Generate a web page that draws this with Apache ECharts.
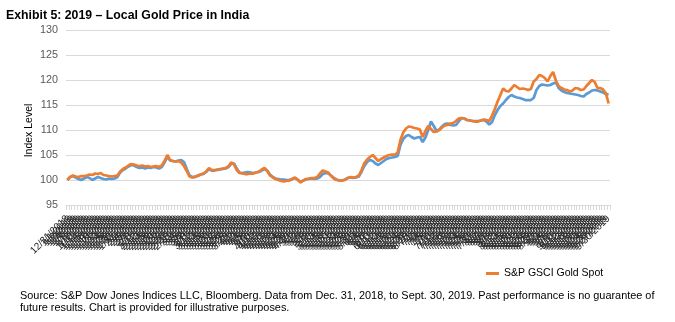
<!DOCTYPE html>
<html>
<head>
<meta charset="utf-8">
<script src="https://cdn.jsdelivr.net/npm/echarts@6/dist/echarts.min.js"></script>
<style>
  html, body { margin: 0; padding: 0; background: #ffffff; }
  #chart { width: 675px; height: 322px; }
</style>
</head>
<body>
<div id="chart"></div>
<script>
// Trading-day category labels (weekdays, M/D/YYYY), Dec 31 2018 – Sep 30 2019
const startDate = [2018, 11, 31];
const endDate = [2019, 8, 30];
function tradingDays(s, e) {
  const out = [];
  const d = new Date(s[0], s[1], s[2]);
  const last = new Date(e[0], e[1], e[2]);
  while (d <= last) {
    const wd = d.getDay();
    if (wd !== 0 && wd !== 6) out.push((d.getMonth() + 1) + '/' + d.getDate() + '/' + d.getFullYear());
    d.setDate(d.getDate() + 1);
  }
  return out;
}
const dates = tradingDays(startDate, endDate);

// Local gold price in INR, rebased to 100
const localGold = [
  100.0,100.6,100.8,100.5,100.2,100.0,100.3,100.6,100.4,100.0,
  100.3,100.6,100.4,100.2,100.1,100.3,100.2,100.3,100.6,101.5,
  102.0,102.3,102.7,103.0,102.9,102.6,102.4,102.5,102.3,102.5,
  102.4,102.6,102.5,102.3,102.6,103.5,104.6,103.9,103.8,103.7,
  103.9,104.0,103.6,102.2,100.9,100.6,100.6,100.9,101.1,101.2,
  101.6,102.2,101.9,101.9,102.0,102.1,102.2,102.3,102.6,103.2,
  103.3,102.3,101.5,101.4,101.5,101.6,101.5,101.4,101.5,101.6,
  101.9,102.2,101.9,101.1,100.6,100.3,100.2,100.1,100.1,100.0,
  100.0,100.2,100.4,100.0,99.6,99.9,100.1,100.2,100.3,100.2,
  100.3,100.6,101.2,101.4,101.3,100.9,100.4,100.1,99.9,99.9,
  100.1,100.4,100.5,100.4,100.5,100.7,101.7,102.8,103.6,104.0,
  103.8,103.3,103.0,103.4,103.8,104.2,104.4,104.5,104.6,104.8,
  107.0,108.2,108.8,109.0,108.6,108.3,108.5,108.6,107.6,108.5,
  110.0,111.7,110.8,109.8,110.1,110.7,111.2,111.3,111.0,110.9,
  111.0,111.7,112.4,112.3,112.0,111.9,111.8,111.8,111.8,111.9,
  112.0,111.7,111.1,111.6,113.0,114.0,114.8,115.3,116.0,116.6,
  117.0,116.7,116.5,116.4,116.2,116.0,116.0,116.0,116.4,118.0,
  118.8,119.1,119.0,118.9,119.0,119.3,119.5,118.4,117.9,117.6,
  117.4,117.3,117.2,117.1,117.0,116.8,116.7,117.2,117.5,117.9,
  118.0,117.9,117.7,117.5,117.2,117.1
];

// S&P GSCI Gold Spot, rebased to 100
const gsciGoldSpot = [
  100.0,100.6,100.9,100.7,100.6,100.8,100.8,100.9,101.1,101.0,
  101.3,101.2,101.4,101.0,100.9,100.8,100.7,100.8,100.9,101.7,
  102.2,102.5,102.9,103.2,103.1,102.9,102.8,102.9,102.7,102.8,
  102.6,102.7,102.8,102.6,102.9,103.8,105.0,104.0,103.8,103.7,
  103.8,103.5,102.8,101.8,100.7,100.5,100.7,100.8,101.1,101.3,
  101.7,102.4,102.0,102.0,102.1,102.2,102.3,102.4,102.7,103.5,
  103.2,102.0,101.4,101.3,101.2,101.2,101.3,101.3,101.5,101.7,
  102.1,102.4,101.8,100.9,100.5,100.2,100.0,99.8,99.7,99.8,
  99.9,100.2,100.5,100.1,99.5,99.9,100.2,100.3,100.4,100.4,
  100.6,101.3,101.9,101.7,101.5,100.8,100.3,100.0,99.9,99.9,
  100.0,100.4,100.6,100.5,100.6,100.9,102.0,103.4,104.1,104.6,
  105.0,104.4,103.8,104.2,104.5,104.8,105.0,105.1,105.1,105.5,
  108.0,109.5,110.3,110.7,110.6,110.4,110.3,110.1,108.6,109.8,
  110.8,110.2,109.6,109.7,110.0,110.5,110.9,111.0,111.3,111.4,
  111.8,112.3,112.4,112.3,112.0,111.9,111.8,111.7,111.7,111.9,
  112.1,112.0,111.8,112.9,114.2,115.7,117.0,118.3,117.8,117.7,
  118.3,119.0,118.6,118.2,118.3,118.2,118.0,118.2,119.7,120.2,
  121.0,120.8,120.4,119.7,120.8,121.6,119.9,118.8,118.4,118.1,
  118.0,117.7,117.9,118.4,118.3,118.0,118.1,118.8,119.4,120.0,
  119.6,118.4,118.4,118.1,117.4,115.3
];

const yTicks = { min: 95, max: 130, step: 5 };

const chart = echarts.init(document.getElementById('chart'), null, { renderer: 'canvas' });
const font = '"Liberation Sans", Arial, sans-serif';

chart.setOption({
  animation: false,
  backgroundColor: '#ffffff',
  textStyle: { fontFamily: font },
  title: [
    {
      text: 'Exhibit 5: 2019 \u2013 Local Gold Price in India',
      left: 1, top: 5,
      textStyle: { fontFamily: font, fontSize: 12.3, fontWeight: 'bold', color: '#000000' }
    },
    {
      text: 'Source: S&P Dow Jones Indices LLC, Bloomberg. Data from Dec. 31, 2018, to Sept. 30, 2019. Past performance is no guarantee of\nfuture results. Chart is provided for illustrative purposes.',
      left: 15, top: 285,
      textStyle: { fontFamily: font, fontSize: 10.9, fontWeight: 'normal', color: '#000000', lineHeight: 12 }
    }
  ],
  legend: {
    data: [{ name: 'S&P GSCI Gold Spot' }],
    left: 481, top: 263,
    itemWidth: 13, itemHeight: 3, itemGap: 4,
    icon: 'rect',
    textStyle: { fontFamily: font, fontSize: 10.5, color: '#000000' }
  },
  grid: { left: 66, right: 65, top: 30, bottom: 117, containLabel: false },
  xAxis: {
    type: 'category',
    data: dates,
    boundaryGap: true,
    axisLine: { lineStyle: { color: '#d9d9d9', width: 1 } },
    axisTick: { show: true, interval: 0, length: 5, lineStyle: { color: '#d9d9d9' } },
    axisLabel: {
      interval: 0, rotate: 45, fontSize: 10, color: '#262626', margin: 12,
      fontFamily: font
    },
    splitLine: { show: false }
  },
  yAxis: {
    type: 'value',
    min: yTicks.min, max: yTicks.max, interval: yTicks.step,
    name: 'Index Level',
    nameLocation: 'middle',
    nameGap: 31,
    nameMoveOverlap: false,
    nameTextStyle: { fontFamily: font, fontSize: 10.5, color: '#000000', padding: [0, 26, 0, 0] },
    axisLine: { show: false },
    axisTick: { show: false },
    axisLabel: { fontSize: 10.8, color: '#595959', margin: 8, fontFamily: font },
    splitLine: { lineStyle: { color: '#d9d9d9', width: 1 } }
  },
  series: [
    {
      name: 'Local Gold (INR)',
      type: 'line',
      data: localGold,
      symbol: 'none',
      lineStyle: { color: '#5b9bd5', width: 2.75 },
      itemStyle: { color: '#5b9bd5' }
    },
    {
      name: 'S&P GSCI Gold Spot',
      type: 'line',
      data: gsciGoldSpot,
      symbol: 'none',
      lineStyle: { color: '#ed7d31', width: 2.75 },
      itemStyle: { color: '#ed7d31' }
    }
  ]
});
</script>
</body>
</html>
